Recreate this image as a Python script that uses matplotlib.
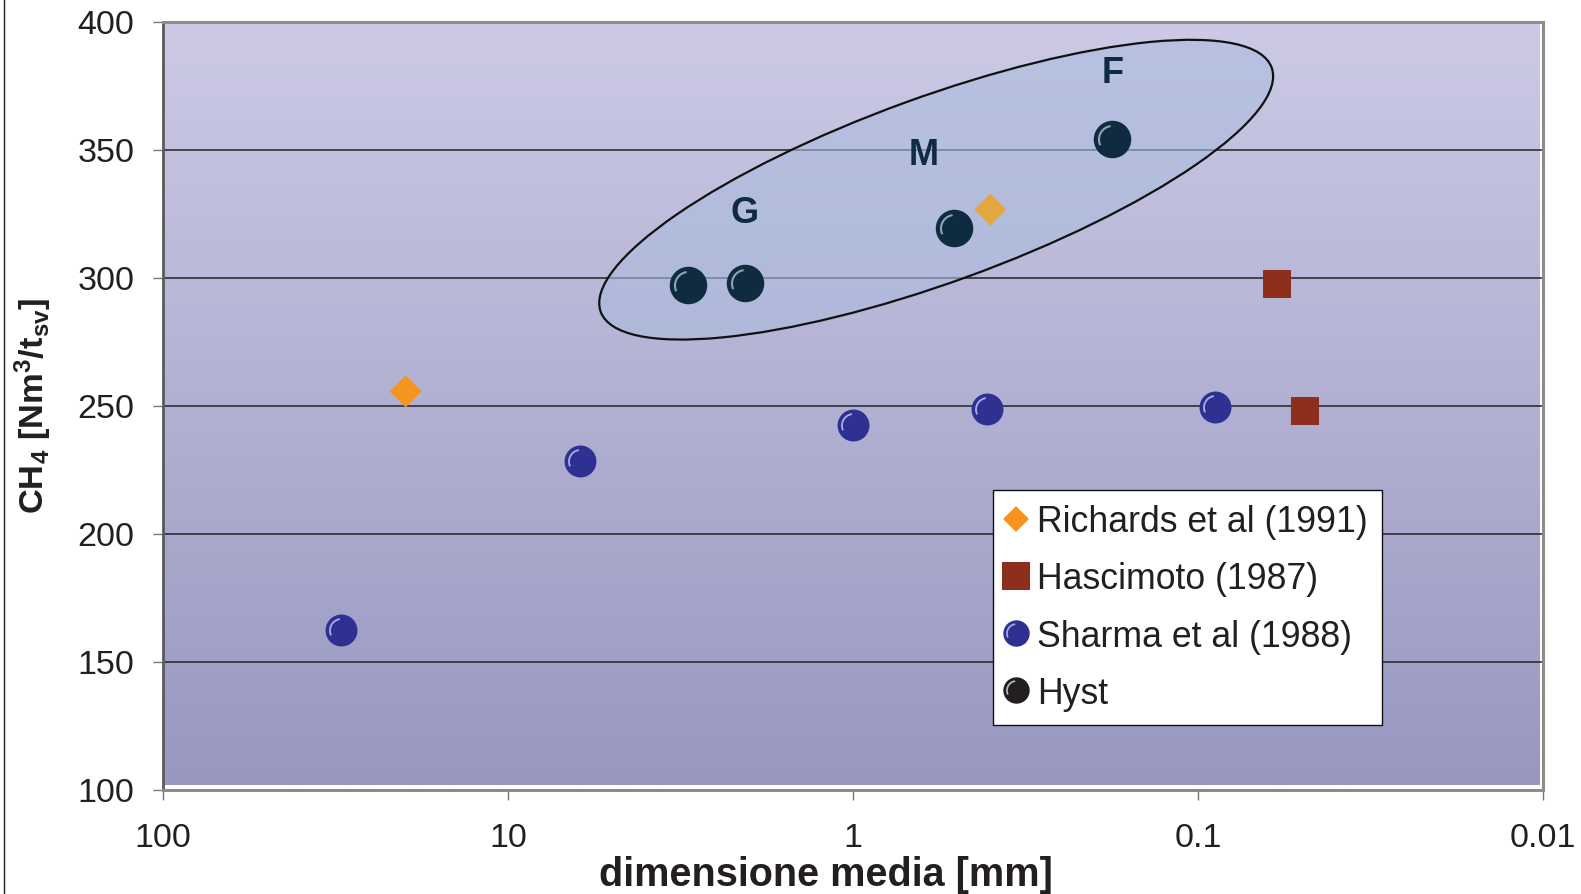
import numpy as np
import matplotlib
matplotlib.use("Agg")
import matplotlib.pyplot as plt
from matplotlib.path import Path
from matplotlib.patches import Ellipse
from matplotlib.lines import Line2D
from matplotlib.transforms import ScaledTranslation
from matplotlib.colors import LinearSegmentedColormap

# ---- data -------------------------------------------------------------
richards_size = [19.8, 0.40]
richards_ch4 = [255.5, 326.5]
hascimoto_size = [0.059, 0.049]
hascimoto_ch4 = [297.5, 248]
sharma_size = [30.5, 6.2, 1.0, 0.41, 0.089]
sharma_ch4 = [162.5, 228.5, 242.5, 248.5, 249.5]
hyst_size = [3.0, 2.05, 0.51, 0.178]
hyst_ch4 = [297, 298, 319.5, 354]

zone_labels = ["G", "M", "F"]
zone_size = [2.06, 0.624, 0.177]
zone_ch4 = [325.5, 348, 380]

x_ticks = [100, 10, 1, 0.1, 0.01]
x_ticklabels = ["100", "10", "1", "0.1", "0.01"]
y_ticks = [100, 150, 200, 250, 300, 350, 400]

legend_labels = ["Richards et al (1991)", "Hascimoto (1987)",
                 "Sharma et al (1988)", "Hyst"]

# ---- style ------------------------------------------------------------
plt.rcParams["font.family"] = ["Liberation Sans", "DejaVu Sans"]
plt.rcParams["mathtext.fontset"] = "custom"
plt.rcParams["mathtext.rm"] = "Liberation Sans:bold"
plt.rcParams["mathtext.it"] = "Liberation Sans:bold"
plt.rcParams["mathtext.bf"] = "Liberation Sans:bold"

W, H = 1581, 895
fig = plt.figure(figsize=(W / 100, H / 100), dpi=100)
fig.patch.set_facecolor("white")

ax_l, ax_r, ax_t, ax_b = 163, 1543, 22.5, 790.5
pos = [ax_l / W, (H - ax_b) / H, (ax_r - ax_l) / W, (ax_b - ax_t) / H]

# gradient plot-area fill, slightly inset from the right and bottom frame
bg = fig.add_axes([ax_l / W, (H - 786) / H, (1540 - ax_l) / W, (786 - ax_t) / H],
                  zorder=0)
grad = np.linspace(0, 1, 256).reshape(-1, 1)
cmap = LinearSegmentedColormap.from_list("plotarea", ["#9897C0", "#CCCAE5"])
bg.imshow(grad, cmap=cmap, origin="lower", aspect="auto",
          extent=(0, 1, 0, 1), interpolation="bilinear")
bg.set_axis_off()

ax = fig.add_axes(pos, zorder=1)
ax.set_facecolor("none")
ax.set_xscale("log")
ax.set_xlim(100, 0.01)
ax.set_ylim(100, 400)
ax.set_xticks(x_ticks)
ax.set_xticklabels(x_ticklabels)
ax.xaxis.set_minor_locator(matplotlib.ticker.NullLocator())
ax.set_yticks(y_ticks)
ax.tick_params(axis="both", labelsize=24.5, colors="#777777", labelcolor="#231F20",
               length=7.2, width=1.0)
ax.tick_params(axis="x", pad=16.5)
ax.tick_params(axis="y", pad=13.5)
for side in ["top", "right", "bottom"]:
    ax.spines[side].set_color("#8C8C8C")
    ax.spines[side].set_linewidth(2.2)
ax.spines["left"].set_color("#5A5A5A")
ax.spines["left"].set_linewidth(2.0)
ax.set_axisbelow(True)
ax.yaxis.grid(True, color="#222222", linewidth=1.1)

# highlighted ellipse grouping the Hyst samples
ell = Ellipse((0, 0), width=7.14, height=1.85, angle=20.0,
              transform=fig.dpi_scale_trans + ScaledTranslation(0.574, 334.3, ax.transData),
              facecolor=(171 / 255, 188 / 255, 222 / 255, 0.6),
              edgecolor="#111111", linewidth=1.6, zorder=2)
ax.add_artist(ell)

# small highlight arc giving the round markers a glossy look
theta = np.linspace(np.radians(98), np.radians(205), 30)
arc_r = 0.36
arc_verts = [(0.5, 0.0)] + list(zip(arc_r * np.cos(theta), arc_r * np.sin(theta)))
arc_codes = [Path.MOVETO, Path.MOVETO] + [Path.LINETO] * (len(theta) - 1)
arc_marker = Path(arc_verts, arc_codes)


def sphere(x, y, ms, color, shine, lw=1.3, z=4):
    base = ax.plot(x, y, ls="none", marker="o", ms=ms, mfc=color, mec=color,
                   mew=0, zorder=z)[0]
    hl = ax.plot(x, y, ls="none", marker=arc_marker, ms=ms, mfc="none",
                 mec=shine, mew=lw, zorder=z + 0.1)[0]
    return base, hl


# Richards: diamonds (the one inside the ellipse is tinted by its fill)
richards_colors = ["#F7941D", "#E3A640"]
ax.scatter(richards_size, richards_ch4, marker="D", s=(16.3 ** 2),
           c=richards_colors, linewidths=0, zorder=4)
ax.plot(hascimoto_size, hascimoto_ch4, ls="none", marker="s", ms=20.2,
        mfc="#8E2F1E", mec="#8E2F1E", mew=0, zorder=4)
sphere(sharma_size, sharma_ch4, 23, "#2E3192", "#A9AEE6")
sphere(hyst_size, hyst_ch4, 27, "#0F2B40", "#8FA3B8", lw=1.5)

for lab, xs, ys in zip(zone_labels, zone_size, zone_ch4):
    ax.text(xs, ys, lab, ha="center", va="center", fontsize=26,
            fontweight="bold", color="#0F2B40", zorder=6)

# legend with custom handles
h_rich = Line2D([], [], ls="none", marker="D", ms=13.7, mfc="#F7941D", mec="#F7941D", mew=0)
h_hasc = Line2D([], [], ls="none", marker="s", ms=20, mfc="#8E2F1E", mec="#8E2F1E", mew=0)
h_sh1 = Line2D([], [], ls="none", marker="o", ms=19, mfc="#2E3192", mec="#2E3192", mew=0)
h_sh2 = Line2D([], [], ls="none", marker=arc_marker, ms=19, mfc="none", mec="#A9AEE6", mew=1.2)
h_hy1 = Line2D([], [], ls="none", marker="o", ms=19, mfc="#231F20", mec="#231F20", mew=0)
h_hy2 = Line2D([], [], ls="none", marker=arc_marker, ms=19, mfc="none", mec="#BFBFBF", mew=1.2)
leg = ax.legend([h_rich, h_hasc, (h_sh1, h_sh2), (h_hy1, h_hy2)], legend_labels,
                loc="upper left", bbox_to_anchor=(993 / W, 1 - 491 / H),
                bbox_transform=fig.transFigure, borderaxespad=0,
                fontsize=25.7, frameon=True, fancybox=False, framealpha=1,
                edgecolor="#111111", borderpad=0.4, handlelength=0.5,
                handletextpad=0.34, labelspacing=0.62)
leg.get_frame().set_linewidth(1.0)
leg.set_zorder(10)
for t in leg.get_texts():
    t.set_color("#231F20")

# axis titles
fig.text(826 / W, 9 / H, "dimensione media [mm]", ha="center", va="baseline",
         fontsize=28.5, fontweight="bold", color="#231F20")
fig.text(33 / W, 1 - 406 / H, r"CH$_4$ [Nm$^3$/t$_{sv}$]", ha="center", va="center",
         rotation=90, fontsize=24.8, fontweight="bold", color="#231F20")

# thin frame line on the left edge of the figure
fig.add_artist(Line2D([4 / W, 4 / W], [0, 1], transform=fig.transFigure,
                      color="#231F20", linewidth=1.0))

fig.savefig("out.png", dpi=100)
